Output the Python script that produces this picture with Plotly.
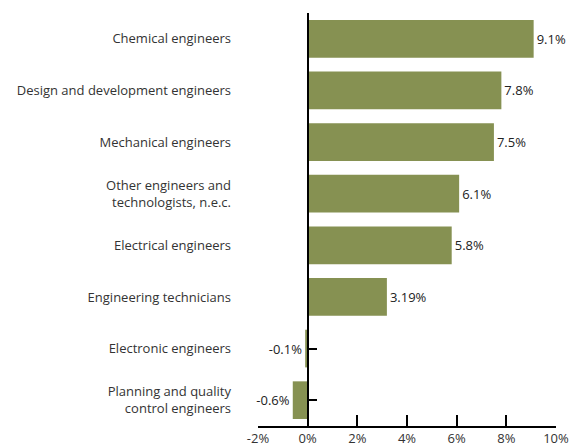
import plotly.graph_objects as go

categories = [
    "Chemical engineers",
    "Design and development engineers",
    "Mechanical engineers",
    "Other engineers and<br>technologists, n.e.c.",
    "Electrical engineers",
    "Engineering technicians",
    "Electronic engineers",
    "Planning and quality<br>control engineers",
]
values = [9.1, 7.8, 7.5, 6.1, 5.8, 3.19, -0.1, -0.6]
value_labels = ["9.1%", "7.8%", "7.5%", "6.1%", "5.8%", "3.19%", "-0.1%", "-0.6%"]
x_ticks = [-2, 0, 2, 4, 6, 8, 10]
x_ticklabels = ["-2%", "0%", "2%", "4%", "6%", "8%", "10%"]

FONT = "Open Sans"
BAR = "#869152"

fig = go.Figure()
fig.add_trace(go.Bar(
    y=categories, x=values, orientation="h",
    marker=dict(color=BAR, line=dict(width=0)),
    text=value_labels, textposition="outside", cliponaxis=False,
    textfont=dict(family=FONT, size=13, color="#222"),
    hoverinfo="skip",
))
# invisible traces carrying the tick-only axis and the line at zero
for ax in ("y2", "y3"):
    fig.add_trace(go.Bar(
        y=categories, x=[0] * len(categories), orientation="h",
        yaxis=ax, marker=dict(color="rgba(0,0,0,0)"), showlegend=False,
        hoverinfo="skip",
    ))

# page body has an 8px margin, so the figure is sized to fit inside it
fig.update_layout(
    width=570, height=439,
    margin=dict(l=250, r=22, t=5, b=21, autoexpand=False),
    paper_bgcolor="white", plot_bgcolor="white",
    showlegend=False, bargap=0.27, barmode="overlay",
    font=dict(family=FONT, size=13, color="#333"),
    xaxis=dict(
        range=[-2, 10], tickvals=x_ticks, ticktext=x_ticklabels,
        showgrid=False, zeroline=False, showline=True, linecolor="#000",
        linewidth=1.5, ticks="inside", ticklen=11, tickcolor="#000", tickwidth=1.5,
        tickfont=dict(family=FONT, size=13, color="#333"), domain=[0, 1],
        automargin=False,
    ),
    yaxis=dict(
        categoryorder="array", categoryarray=categories[::-1],
        range=[-0.5, 7.5], showgrid=False, zeroline=False, showline=False,
        ticks="", ticklabelstandoff=26, automargin=False,
        tickfont=dict(family=FONT, size=13, color="#333"),
    ),
    yaxis2=dict(
        overlaying="y", matches="y", anchor="free", position=2 / 12, side="right",
        showline=False, layer="below traces",
        ticks="outside", ticklen=8, tickcolor="#000", tickwidth=1.5,
        showticklabels=False, showgrid=False, zeroline=False, automargin=False,
    ),
    yaxis3=dict(
        overlaying="y", matches="y", anchor="free", position=2 / 12, side="left",
        showline=True, linecolor="#000", linewidth=1.5, layer="above traces",
        ticks="", showticklabels=False, showgrid=False, zeroline=False,
        automargin=False,
    ),
)

fig.write_html("out.html")
